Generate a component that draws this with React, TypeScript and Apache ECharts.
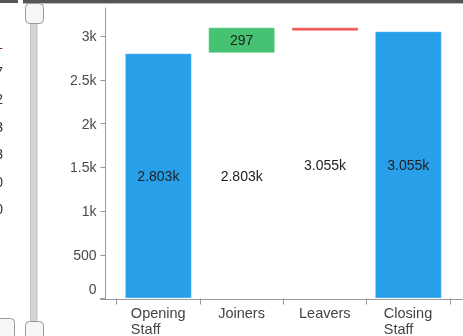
import React, { useEffect, useRef } from 'react';
import * as echarts from 'echarts';

const categories = ['Opening Staff', 'Joiners', 'Leavers', 'Closing Staff'];
const openingStaff = 2803;
const joiners = 297;
const leavers = 45;
const closingStaff = 3055;
const stepValues = [openingStaff, joiners, leavers, closingStaff];
const baseValues = [0, openingStaff, openingStaff + joiners - leavers, 0];
const barColors = ['#279FE9', '#45C373', '#F05454', '#279FE9'];
const yTickValues = [0, 500, 1000, 1500, 2000, 2500, 3000];
const yMax = 3320;
const sideValues = ['1', '7', '2', '3', '3', '0', '0'];

const FONT = '"Liberation Sans", Arial, sans-serif';
const X_FS = 14.5;

const fmtK = (v: number) => (v >= 1000 ? `${+(v / 1000).toFixed(3)}k` : `${v}`);

function measure(s: string): number {
  const c = document.createElement('canvas').getContext('2d');
  if (!c) return s.length * 8;
  c.font = `${X_FS}px "Liberation Sans"`;
  return c.measureText(s).width;
}

export default function App() {
  const ref = useRef<HTMLDivElement>(null);
  useEffect(() => {
    if (!ref.current) return;
    const chart = echarts.init(ref.current, undefined, { renderer: 'svg' });
    const rich: Record<string, any> = {};
    categories.forEach((c, i) => {
      rich[`c${i}`] = {
        width: Math.ceil(Math.max(...c.split(' ').map(measure))),
        align: 'left',
        lineHeight: 16,
        fontSize: X_FS,
        fontFamily: FONT,
        color: '#444',
      };
    });
    const graphic: any[] = [
      { type: 'rect', shape: { x: 0, y: 0, width: 18, height: 3 }, style: { fill: '#555' } },
      { type: 'rect', shape: { x: 23, y: 0, width: 440, height: 3 }, style: { fill: '#555' } },
      { type: 'rect', shape: { x: 23, y: 3, width: 440, height: 1 }, style: { fill: '#bbb' } },
      { type: 'rect', shape: { x: 30.5, y: 20, width: 6.5, height: 320 }, style: { fill: '#d3d3d3', stroke: '#c4c4c4', lineWidth: 1 } },
      { type: 'rect', shape: { x: 25.5, y: 3.5, width: 18, height: 20, r: 4 }, style: { fill: '#f6f6f6', stroke: '#999', lineWidth: 1 } },
      { type: 'rect', shape: { x: 25.5, y: 321.5, width: 18, height: 20, r: 4 }, style: { fill: '#f6f6f6', stroke: '#999', lineWidth: 1 } },
      { type: 'rect', shape: { x: -5.5, y: 318.5, width: 20, height: 22, r: 4 }, style: { fill: '#f6f6f6', stroke: '#999', lineWidth: 1 } },
      { type: 'line', shape: { x1: 100, y1: 299.5, x2: 463, y2: 299.5 }, style: { stroke: '#999', lineWidth: 1 } },
    ];
    sideValues.forEach((t, i) => {
      graphic.push({
        type: 'text',
        x: 3,
        y: 44 + i * 27.5,
        style: {
          text: t,
          align: 'right',
          verticalAlign: 'middle',
          fontSize: 14,
          fontFamily: FONT,
          fill: i === 0 ? '#7a2060' : '#333',
        },
      });
    });

    chart.setOption({
      animation: false,
      grid: { left: 116.7, right: 13, top: 8, bottom: 36.5, containLabel: false },
      xAxis: {
        type: 'category',
        data: categories,
        axisLine: { show: false },
        axisTick: { show: true, length: 6, lineStyle: { color: '#999' } },
        axisLabel: {
          interval: 0,
          margin: 6,
          verticalAlign: 'top',
          formatter: (v: string, i: number) => v.split(' ').map((p) => `{c${i}|${p}}`).join('\n'),
          rich,
        },
      },
      yAxis: {
        type: 'value',
        min: 0,
        max: yMax,
        offset: 11.2,
        splitLine: { show: false },
        axisLine: { show: true, lineStyle: { color: '#999' } },
        axisTick: { show: true, length: 5, lineStyle: { color: '#999' }, customValues: yTickValues },
        axisLabel: {
          customValues: yTickValues,
          margin: 9,
          fontSize: 14,
          fontFamily: FONT,
          color: '#4a4a4a',
          formatter: (v: number) => (v === 0 ? '{z|0}' : fmtK(v)),
          rich: { z: { padding: [0, 0, 20, 0], fontSize: 14, fontFamily: FONT, color: '#4a4a4a' } },
        },
      },
      graphic,
      series: [
        {
          type: 'bar',
          stack: 'w',
          barWidth: 67,
          silent: true,
          itemStyle: { color: 'transparent' },
          data: baseValues.map((v) => ({
            value: v,
            label: { show: v > 0 },
          })),
          label: {
            position: 'inside',
            fontSize: 14,
            fontFamily: FONT,
            color: '#222',
            formatter: (p: any) => fmtK(p.value),
          },
        },
        {
          type: 'bar',
          stack: 'w',
          barWidth: 67,
          silent: true,
          data: stepValues.map((v, i) => ({
            value: v,
            itemStyle: { color: barColors[i], borderColor: 'rgba(255,255,255,0.35)', borderWidth: 1 },
            label: { show: v >= 100 },
          })),
          label: {
            position: 'inside',
            fontSize: 14,
            fontFamily: FONT,
            color: '#222',
            formatter: (p: any) => fmtK(p.value),
          },
        },
      ],
    });
    return () => chart.dispose();
  }, []);
  return <div ref={ref} style={{ position: 'fixed', left: 0, top: 0, width: 463, height: 336 }} />;
}
